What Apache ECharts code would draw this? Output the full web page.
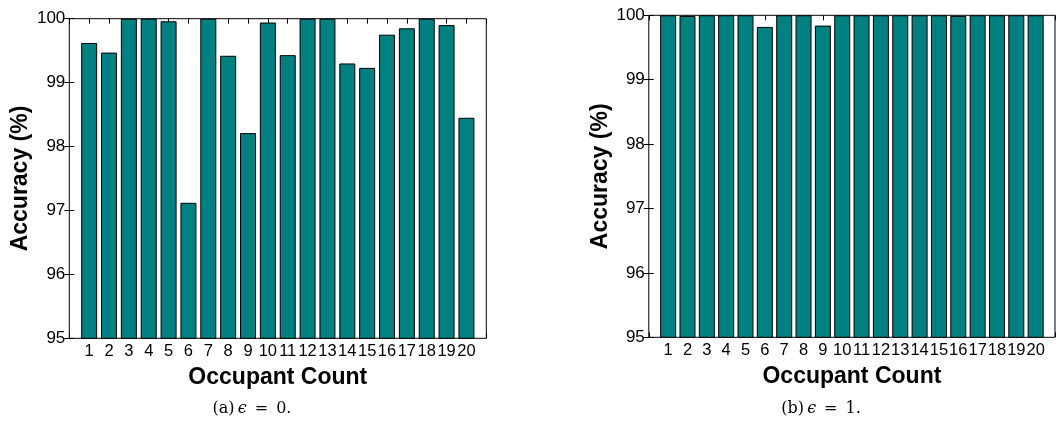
<!DOCTYPE html>
<html><head><meta charset="utf-8">
<script src="https://cdn.jsdelivr.net/npm/echarts@6/dist/echarts.min.js"></script>
<style>html,body{margin:0;padding:0;background:#fff}#c{width:1058px;height:422px}</style>
</head><body><div id="c"></div>
<script>
const occupantCounts = [1,2,3,4,5,6,7,8,9,10,11,12,13,14,15,16,17,18,19,20];
const accuracyEps0 = [99.62,99.47,100,100,99.96,97.12,100,99.42,98.21,99.94,99.43,100,100,99.30,99.23,99.75,99.85,100,99.90,98.45];
const accuracyEps1 = [100,99.99,100,100,100,99.82,100,100,99.84,100,100,100,100,100,100,99.99,100,100,100,100];
const yTickValues = [95,96,97,98,99,100];
const xAxisTitle = 'Occupant Count';
const yAxisTitle = 'Accuracy (%)';
const captions = ['(a)\u2009{i|ϵ}\u2002=\u20020.', '(b)\u2009{i|ϵ}\u2002=\u20021.'];

const chart = echarts.init(document.getElementById('c'), null, {renderer:'canvas'});
const sans = 'Liberation Sans';
const grids = [
  {left:69.3, top:18.7, width:417, height:319.6},
  {left:648.8, top:15.3, width:418.1, height:322}
];
function xAxes(gi, nameGap){
  const base = {gridIndex:gi, type:'value', min:0, max:21, interval:1,
    axisLine:{show:false}, splitLine:{show:false},
    axisTick:{show:true, inside:true, length:5, lineStyle:{color:'#000', width:1}}};
  return [
    Object.assign({}, base, {position:'bottom',
      axisLabel:{show:true, margin:5, color:'#000', fontFamily:sans, fontSize:16.5,
        formatter:v => occupantCounts.includes(v) ? String(v) : ''},
      name:xAxisTitle, nameLocation:'middle', nameGap:nameGap,
      nameTextStyle:{color:'#000', fontFamily:sans, fontWeight:'bold', fontSize:23}}),
    Object.assign({}, base, {position:'top', axisLabel:{show:false}})
  ];
}
function yAxes(gi, nameGap){
  const base = {gridIndex:gi, type:'value', min:yTickValues[0], max:yTickValues[yTickValues.length-1], interval:1,
    axisLine:{show:false}, splitLine:{show:false},
    axisTick:{show:true, inside:true, length:5, lineStyle:{color:'#000', width:1}}};
  return [
    Object.assign({}, base, {position:'left',
      axisLabel:{show:true, margin:4, color:'#000', fontFamily:sans, fontSize:17},
      name:yAxisTitle, nameLocation:'middle', nameGap:nameGap, nameRotate:90,
      nameTextStyle:{color:'#000', fontFamily:sans, fontWeight:'bold', fontSize:23}}),
    Object.assign({}, base, {position:'right', axisLabel:{show:false}})
  ];
}
function barSeries(gi, values){
  return {type:'bar', xAxisIndex:gi*2, yAxisIndex:gi*2, barWidth:16,
    data: occupantCounts.map((c,i)=>[c, values[i]]),
    itemStyle:{color:'#008080', borderColor:'#000', borderWidth:1},
    silent:true, animation:false};
}
const captionX = [252, 821];
chart.setOption({
  animation:false,
  grid: grids.map(g => Object.assign({show:true, borderColor:'#000', borderWidth:1, backgroundColor:'transparent'}, g)),
  xAxis: [].concat(xAxes(0,28), xAxes(1,28)),
  yAxis: [].concat(yAxes(0,37), yAxes(1,36)),
  series: [barSeries(0, accuracyEps0), barSeries(1, accuracyEps1)],
  graphic: captions.map((t,i)=>({type:'text', x:captionX[i], y:409,
    style:{text:t, align:'center', verticalAlign:'middle', fill:'#000',
      fontFamily:'DejaVu Serif', fontSize:16,
      rich:{i:{fontStyle:'italic', fontFamily:'DejaVu Serif', fontSize:16, fill:'#000'}}}}))
});
</script></body></html>
